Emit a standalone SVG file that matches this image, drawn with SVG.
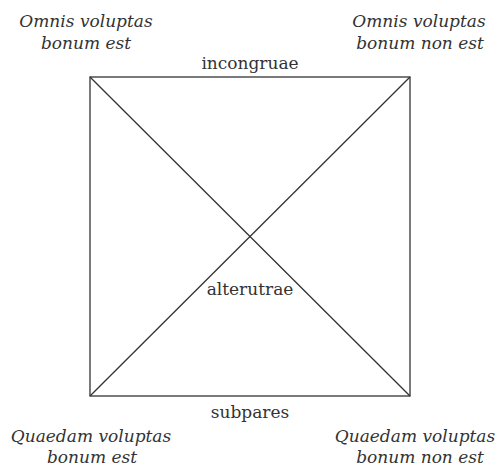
<svg xmlns="http://www.w3.org/2000/svg" width="497" height="467" viewBox="0 0 497 467">
<style>
text{font-family:"DejaVu Serif","Liberation Serif",serif;font-size:17px;fill:#333;text-anchor:middle}
.i{font-style:italic}
.l{stroke:#333;stroke-width:1.3;fill:none}
</style>
<rect width="497" height="467" fill="#fff"/>
<g id="connectors">
<rect class="l" x="90" y="77" width="320" height="319"/>
<line class="l" x1="90" y1="77" x2="410" y2="396"/>
<line class="l" x1="410" y1="77" x2="90" y2="396"/>
</g>
<g id="A"><text class="i" x="86" y="27">Omnis voluptas</text><text class="i" x="86" y="49">bonum est</text></g>
<g id="E"><text class="i" x="419" y="27">Omnis voluptas</text><text class="i" x="420" y="49">bonum non est</text></g>
<g id="I"><text class="i" x="91" y="442">Quaedam voluptas</text><text class="i" x="92" y="463">bonum est</text></g>
<g id="O"><text class="i" x="415" y="442">Quaedam voluptas</text><text class="i" x="420" y="463">bonum non est</text></g>
<g id="labels">
<text x="250" y="69">incongruae</text>
<text x="250" y="418">subpares</text>
<text x="250" y="295">alterutrae</text>
</g>
</svg>
